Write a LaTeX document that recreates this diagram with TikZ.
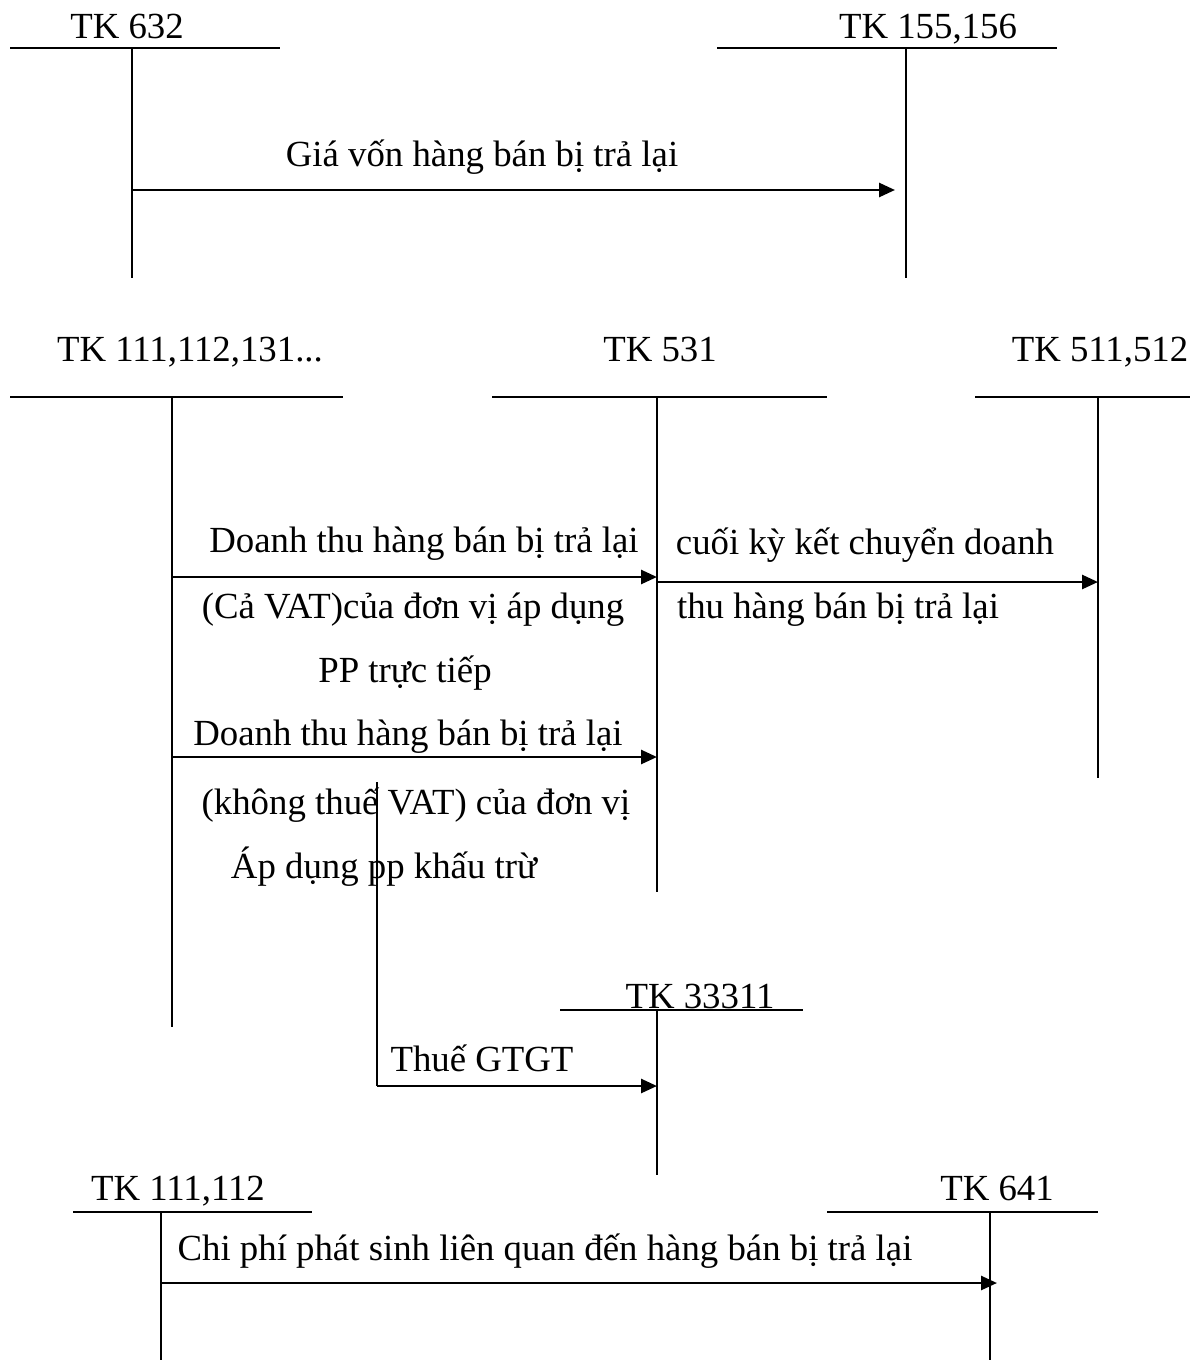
\documentclass[tikz,border=0pt]{standalone}
\usepackage{fontspec}
\setmainfont{Liberation Serif}
\usetikzlibrary{arrows.meta}
\tikzset{
  acct/.style={inner sep=0pt, anchor=center, text height=0.662em, text depth=0pt},
  lbl/.style={inner sep=0pt, anchor=center},
  bar/.style={line width=2pt},
  stem/.style={line width=1.5pt},
  flow/.style={line width=2pt, -{Triangle[length=12pt,width=10.5pt]}},
  feed/.style={line width=1.5pt}
}
\begin{document}
\begin{tikzpicture}[x=0.75pt,y=-0.75pt,font=\fontsize{27.6}{33}\selectfont]
        \useasboundingbox (0,0) rectangle (1198,1360);
        % gia von
        \node [acct] (tk632) at (127,34) {TK 632};
        \draw [bar] (10,48) -- (280,48);
        \draw [stem] (132,48) coordinate (v632) -- (132,278);
        \node [acct] (tk155) at (928,34) {TK 155,156};
        \draw [bar] (717,48) -- (1057,48);
        \draw [stem] (906,48) coordinate (v155) -- (906,278);
        \draw [flow] (v632 |- 0,190) -- (895,190);
        \node [lbl] (giavon) at (482,157) {Giá vốn hàng bán bị trả lại};
        % doanh thu
        \node [acct] (tk111) at (190,357) {TK 111,112,131...};
        \draw [bar] (10,397) -- (343,397);
        \draw [stem] (172,397) coordinate (v111) -- (172,1027);
        \node [acct] (tk531) at (660,357) {TK 531};
        \draw [bar] (492,397) -- (827,397);
        \draw [stem] (657,397) coordinate (v531) -- (657,892);
        \node [acct] (tk511) at (1100,357) {TK 511,512};
        \draw [bar] (975,397) -- (1190,397);
        \draw [stem] (1098,397) coordinate (v511) -- (1098,778);
        \draw [flow] (v111 |- 0,577) -- (v531 |- 0,577);
        \node [lbl] (dt1) at (424,544) {Doanh thu hàng bán bị trả lại};
        \node [lbl] (dt2) at (413,610) {(Cả VAT)của đơn vị áp dụng};
        \node [lbl] (dt3) at (405,673) {PP trực tiếp};
        \draw [flow] (v531 |- 0,582) -- (v511 |- 0,582);
        \node [lbl] (kc1) at (865,545) {cuối kỳ kết chuyển doanh};
        \node [lbl] (kc2) at (838,610) {thu hàng bán bị trả lại};
        \draw [flow] (v111 |- 0,757) -- (v531 |- 0,757);
        \node [lbl] (kt1) at (408,737) {Doanh thu hàng bán bị trả lại};
        \node [lbl] (kt2) at (416,805) {(không thuế VAT) của đơn vị};
        \node [lbl] (kt3) at (384,867) {Áp dụng pp khấu trừ};
        % thue
        \node [acct] (tk333) at (700,1004) {TK 33311};
        \draw [bar] (560,1010) -- (803,1010);
        \draw [stem] (657,1010) coordinate (v333) -- (657,1175);
        \coordinate (ts) at (377,782);
        \draw [feed] (ts) -- (377,1086);
        \draw [flow] (377,1086) -- (v333 |- 0,1086);
        \node [lbl] (gtgt) at (482,1058) {Thuế GTGT};
        % chi phi
        \node [acct] (tk1112) at (178,1196) {TK 111,112};
        \draw [bar] (73,1212) -- (312,1212);
        \draw [stem] (161,1212) coordinate (v1112) -- (161,1360);
        \node [acct] (tk641) at (997,1196) {TK 641};
        \draw [bar] (827,1212) -- (1098,1212);
        \draw [stem] (990,1212) coordinate (v641) -- (990,1360);
        \draw [flow] (v1112 |- 0,1283) -- (997,1283);
        \node [lbl] (cp) at (545,1251) {Chi phí phát sinh liên quan đến hàng bán bị trả lại};
\end{tikzpicture}
\end{document}
